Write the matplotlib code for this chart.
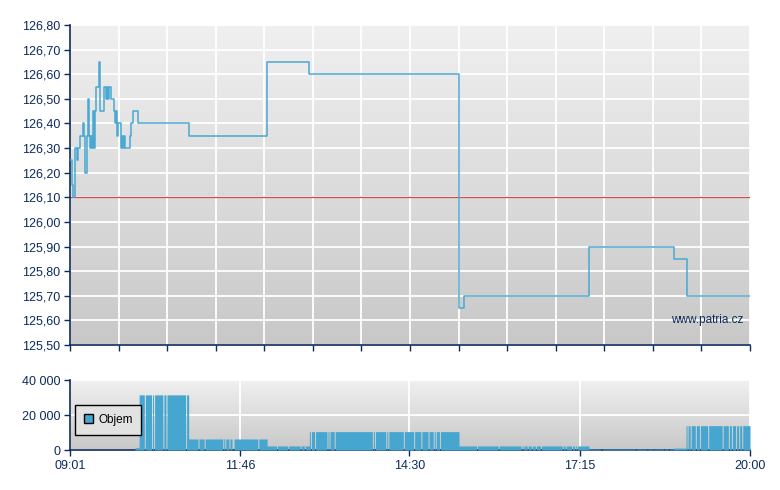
import numpy as np
import matplotlib
matplotlib.use("Agg")
import matplotlib.pyplot as plt
from matplotlib.colors import LinearSegmentedColormap

plt.rcParams['font.family'] = ['Liberation Sans', 'DejaVu Sans']

# ---------------- data ----------------
price_times = ["09:01", "09:03", "09:04", "09:06", "09:08", "09:09", "09:11", "09:14",
               "09:15", "09:16", "09:17", "09:18", "09:19", "09:20", "09:21", "09:22",
               "09:23", "09:24", "09:25", "09:26", "09:29", "09:30", "09:34", "09:36",
               "09:37", "09:38", "09:39", "09:41", "09:44", "09:45", "09:46", "09:47",
               "09:48", "09:50", "09:51", "09:52", "09:53", "09:54", "09:59", "10:00",
               "10:02", "10:07", "10:56", "12:12", "12:53", "15:18", "15:23", "17:24",
               "18:46", "18:59", "20:00"]
price_values = [126.25, 126.15, 126.10, 126.30, 126.25, 126.30, 126.35, 126.40,
                126.35, 126.20, 126.35, 126.50, 126.35, 126.30, 126.35, 126.30,
                126.45, 126.30, 126.45, 126.55, 126.65, 126.45, 126.55, 126.50,
                126.55, 126.50, 126.55, 126.50, 126.45, 126.40, 126.45, 126.35,
                126.40, 126.30, 126.35, 126.30, 126.35, 126.30, 126.35, 126.40,
                126.45, 126.40, 126.35, 126.65, 126.60, 125.65, 125.70, 125.90,
                125.85, 125.70, 125.70]
prev_close = 126.10

vol_block_start = ["10:04", "10:08", "10:56", "12:12", "12:53", "15:18", "17:24", "17:37", "18:46", "18:58"]
vol_block_end   = ["10:08", "10:56", "12:12", "12:53", "15:18", "17:24", "17:35", "18:46", "18:58", "20:00"]
vol_block_value = [1300, 31500, 6300, 2300, 10500, 2300, 500, 500, 1100, 13900]
vol_gaps = ["10:13", "10:20", "10:22", "10:31", "10:34", "10:53",
            "11:05", "11:11", "11:29", "11:31", "11:35", "11:38", "11:39", "12:03",
            "12:21", "12:32", "12:44", "12:48",
            "12:54", "12:58", "13:10", "13:12", "13:17", "13:54", "13:56", "14:07",
            "14:09", "14:24", "14:34", "14:41", "14:48", "14:53", "14:55", "14:59",
            "15:35", "15:56", "16:18", "16:20", "16:24", "16:28", "16:32", "16:37",
            "16:58", "17:01", "17:07", "17:10", "17:12",
            "18:09", "18:20", "18:26", "18:36", "18:41",
            "18:59", "19:02", "19:07", "19:11", "19:19", "19:33", "19:39", "19:42",
            "19:46", "19:49", "19:52"]

x_labels = ["09:01", "11:46", "14:30", "17:15", "20:00"]
y_ticks = [125.5, 125.6, 125.7, 125.8, 125.9, 126.0, 126.1, 126.2, 126.3, 126.4, 126.5, 126.6, 126.7, 126.8]
vol_ticks = [0, 20000, 40000]


def tmin(s):
    h, m = s.split(":")
    return int(h) * 60 + int(m)

t0, t1 = tmin(x_labels[0]), tmin(x_labels[-1])

# per-minute volume from blocks
minutes = np.arange(t0, t1 + 1)
vol = np.zeros(len(minutes))
for s, e, v in zip(vol_block_start, vol_block_end, vol_block_value):
    vol[tmin(s) - t0:tmin(e) - t0] = v
for g in vol_gaps:
    vol[tmin(g) - t0] = 0

# ---------------- style ----------------
navy = "#0d2a5c"
line_blue = "#4aa8d2"
bar_blue = "#46a6cf"
grad = LinearSegmentedColormap.from_list("g", ["#c8c8c8", "#f0f0f0"])

fig = plt.figure(figsize=(7.8, 4.9), dpi=100)
ax = fig.add_axes([70 / 780, 145 / 490, 680 / 780, 320 / 490])
axv = fig.add_axes([70 / 780, 40 / 490, 680 / 780, 70 / 490])

for a in (ax, axv):
    a.imshow(np.linspace(0, 1, 256).reshape(-1, 1), aspect='auto', cmap=grad,
             extent=[0, 1, 0, 1], transform=a.transAxes, zorder=0, origin='lower')
    for sp in ("top", "right"):
        a.spines[sp].set_visible(False)
    for sp in ("left", "bottom"):
        a.spines[sp].set_color(navy)
        a.spines[sp].set_linewidth(1.2)
    a.tick_params(colors=navy, labelcolor=navy, direction='out', length=4, width=1,
                  labelsize=9, pad=3)
    a.set_xlim(t0, t1)

# main price chart
pt = [tmin(s) for s in price_times]
ax.step(pt, price_values, where='post', color=line_blue, lw=1.1, zorder=3)
ax.axhline(prev_close, color="#d84a4a", lw=0.9, zorder=2)
ax.set_ylim(y_ticks[0], y_ticks[-1])
ax.set_yticks(y_ticks)
ax.set_yticklabels([f"{v:.2f}".replace(".", ",") for v in y_ticks])
ax.set_xticks(np.linspace(t0, t1, 15))
ax.set_xticklabels([])
ax.grid(True, color="white", lw=1.3, zorder=1)
ax.set_axisbelow(True)
ax.text(0.99, 0.06, "www.patria.cz", transform=ax.transAxes, ha='right', va='bottom',
        color=navy, fontsize=8.5, zorder=4)

# volume chart
axv.fill_between(minutes, vol, step='post', color=bar_blue, lw=0, zorder=3, label="Objem")
axv.set_ylim(vol_ticks[0], vol_ticks[-1])
axv.set_yticks(vol_ticks)
axv.set_yticklabels([f"{v:,}".replace(",", " ") for v in vol_ticks])
axv.set_xticks([tmin(s) for s in x_labels])
axv.set_xticklabels(x_labels)
axv.grid(True, color="white", lw=1.3, zorder=1)
axv.set_axisbelow(True)
leg = axv.legend(loc='upper left', bbox_to_anchor=(0.0074, 0.643), borderaxespad=0,
                 fontsize=8.5, fancybox=False, frameon=True, handlelength=0.8,
                 handleheight=0.8, handletextpad=0.4, borderpad=0.75, labelcolor="black")
leg.get_frame().set_edgecolor("black")
leg.get_frame().set_facecolor("#e2e2e2")
leg.get_frame().set_linewidth(1.0)
leg.get_frame().set_alpha(1)
for h in leg.legend_handles:
    h.set_edgecolor("black")
    h.set_linewidth(1.0)

fig.savefig("out.png", dpi=100)
